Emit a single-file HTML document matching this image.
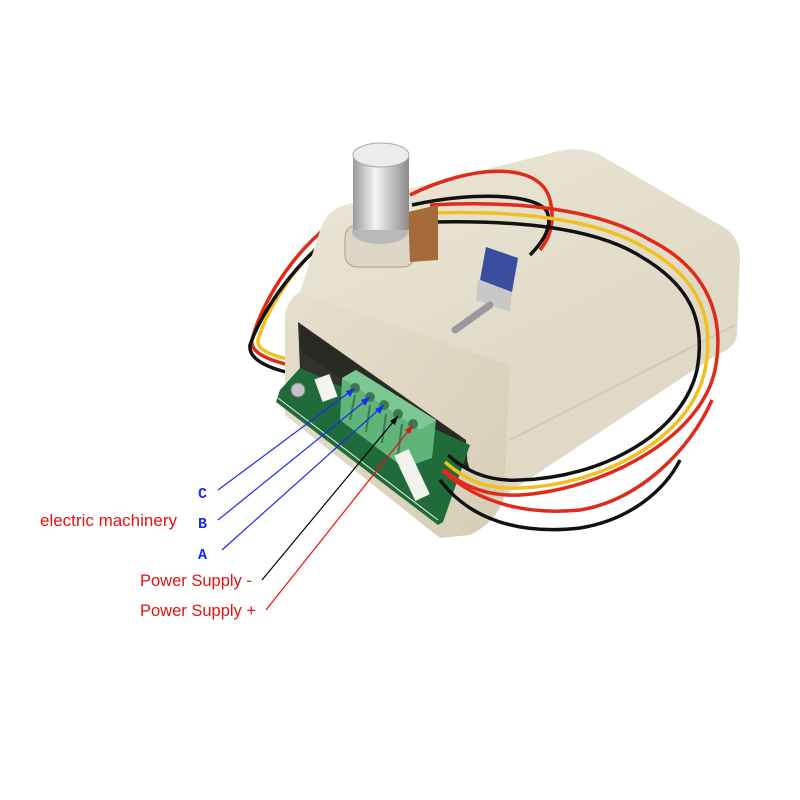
<!DOCTYPE html>
<html><head><meta charset="utf-8"><style>
html,body{margin:0;padding:0;background:#fff;width:800px;height:800px;overflow:hidden}
</style></head><body>
<svg width="800" height="800" viewBox="0 0 800 800" xmlns="http://www.w3.org/2000/svg">
<defs>
<linearGradient id="top" x1="0" y1="0" x2="1" y2="1"><stop offset="0" stop-color="#ebe6d6"/><stop offset="1" stop-color="#ddd6c2"/></linearGradient>
<linearGradient id="front" x1="0" y1="0" x2="1" y2="1"><stop offset="0" stop-color="#e6dfcc"/><stop offset="1" stop-color="#d6cdb6"/></linearGradient>
<linearGradient id="knob" x1="0" y1="0" x2="1" y2="0"><stop offset="0" stop-color="#9a9a9a"/><stop offset="0.4" stop-color="#f4f4f4"/><stop offset="1" stop-color="#8a8a8a"/></linearGradient>
</defs>
<g fill="none" stroke-width="3.5" stroke-linecap="round">
<path d="M345,215 C300,240 262,300 252,340 C248,360 300,368 330,372" stroke="#e02a1a"/>
<path d="M350,222 C305,248 268,305 258,340 C255,356 300,362 330,366" stroke="#f0c020"/>
<path d="M342,230 C300,255 262,310 250,345 C247,368 300,376 330,380" stroke="#111"/>
</g>
<path d="M300,292 L322,225 Q328,210 345,205 L555,152 Q580,145 600,155 L725,228 Q740,238 740,258 L510,365 Q490,358 300,292 Z" fill="url(#top)"/>
<path d="M510,365 L740,258 L737,335 Q735,348 715,356 L505,495 Z" fill="#e0d9c5"/>
<path d="M510,440 L735,325" stroke="#cfc7b0" stroke-width="1.5"/>
<path d="M300,292 L510,365 L505,492 Q500,520 470,535 L440,538 L285,415 L285,315 Q288,298 300,292 Z" fill="url(#front)"/>
<path d="M298,322 L466,440 L468,470 L300,370 Z" fill="#33322a"/>
<path d="M300,325 L460,436 L470,470 L300,350 Z" fill="#2a2a24"/>
<path d="M280,390 L300,368 L470,445 L443,522 L438,525 L276,402 Z" fill="#1f6b3a"/>
<path d="M278,398 L438,520" stroke="#f0f0e8" stroke-width="1" fill="none"/>
<circle cx="298" cy="390" r="7" fill="#c0c4c8" stroke="#777"/>
<rect x="318" y="376" width="16" height="24" fill="#f3f3f0" transform="rotate(-20 326 388)"/>
<path d="M342,378 L356,370 L436,420 L432,458 L404,468 L340,420 Z" fill="#5fb47a"/>
<path d="M342,378 L356,370 L436,420 L420,430 Z" fill="#7cc893"/>
<g stroke="#3d7a52" stroke-width="2"><path d="M350,420 L355,395"/><path d="M366,432 L370,405"/><path d="M382,443 L386,414"/><path d="M398,455 L402,424"/></g>
<g fill="#3d7a52"><circle cx="355" cy="388" r="5"/><circle cx="370" cy="397" r="5"/><circle cx="384" cy="405" r="5"/><circle cx="398" cy="414" r="5"/><circle cx="413" cy="424" r="5"/></g>
<rect x="404" y="450" width="16" height="50" fill="#f2f2ee" transform="rotate(-25 412 475)"/>
<g fill="none" stroke-width="3.5">
<path d="M410,195 C470,165 540,160 550,200 C556,225 548,240 540,250" stroke="#e02a1a"/>
<path d="M412,205 C480,190 545,195 548,215 C552,230 540,245 530,255" stroke="#111"/>
<path d="M430,205 C520,200 600,210 650,240 C710,270 725,320 715,370 C700,440 600,490 520,495 C480,497 455,480 445,470" stroke="#e02a1a"/>
<path d="M430,213 C520,210 600,220 645,248 C700,278 715,320 705,370 C690,440 600,485 520,488 C480,490 460,475 445,462" stroke="#f0c020"/>
<path d="M430,222 C520,220 595,228 640,256 C690,285 706,320 697,370 C682,435 600,478 520,480 C485,482 462,468 448,455" stroke="#111"/>
<path d="M440,480 C470,520 520,535 580,528 C630,520 665,490 680,460" stroke="#111"/>
<path d="M442,470 C480,505 530,515 580,510 C640,500 690,450 712,400" stroke="#e02a1a"/>
</g>
<rect x="345" y="225" width="70" height="42" rx="12" fill="#ddd6c6" stroke="#a8a090"/>
<path d="M408,212 L438,205 L438,260 L410,262 Z" fill="#a56a3a"/>
<ellipse cx="380" cy="232" rx="28" ry="12" fill="#b8b8b8"/>
<rect x="353" y="155" width="56" height="75" fill="url(#knob)"/>
<ellipse cx="381" cy="155" rx="28" ry="12" fill="#ececec" stroke="#aaa"/>
<path d="M486,247 L518,258 L512,292 L480,280 Z" fill="#3a4ea0"/>
<path d="M478,280 L512,292 L510,312 L476,300 Z" fill="#c8c8c8"/>
<path d="M455,330 L490,305" stroke="#9a9a9a" stroke-width="7" stroke-linecap="round"/>
<g stroke-width="1.2">
<line x1="218" y1="490" x2="355" y2="388" stroke="#1a2cf0"/>
<line x1="218" y1="520" x2="370" y2="397" stroke="#1a2cf0"/>
<line x1="222" y1="550" x2="384" y2="405" stroke="#1a2cf0"/>
<line x1="262" y1="580" x2="398" y2="416" stroke="#000"/>
<line x1="266" y1="610" x2="413" y2="425" stroke="#f01010"/>
</g>
<g fill="#1a2cf0"><polygon points="355,388 346,391 350,397"/><polygon points="370,397 361,400 365,406"/><polygon points="384,405 375,409 380,414"/></g>
<polygon points="398,416 390,421 395,425" fill="#000"/><polygon points="413,425 405,430 410,434" fill="#f01010"/>
<g font-family="Liberation Mono, monospace" font-weight="bold" font-size="15" fill="#1a2cf0">
<text x="198" y="498">C</text><text x="198" y="528">B</text><text x="198" y="559">A</text></g>
<g font-family="Liberation Sans, sans-serif" fill="#e81010">
<text x="40" y="526" font-size="17">electric machinery</text>
<text x="140" y="586" font-size="16.5">Power Supply -</text>
<text x="140" y="616" font-size="16.5">Power Supply +</text></g>
</svg>
</body></html>
